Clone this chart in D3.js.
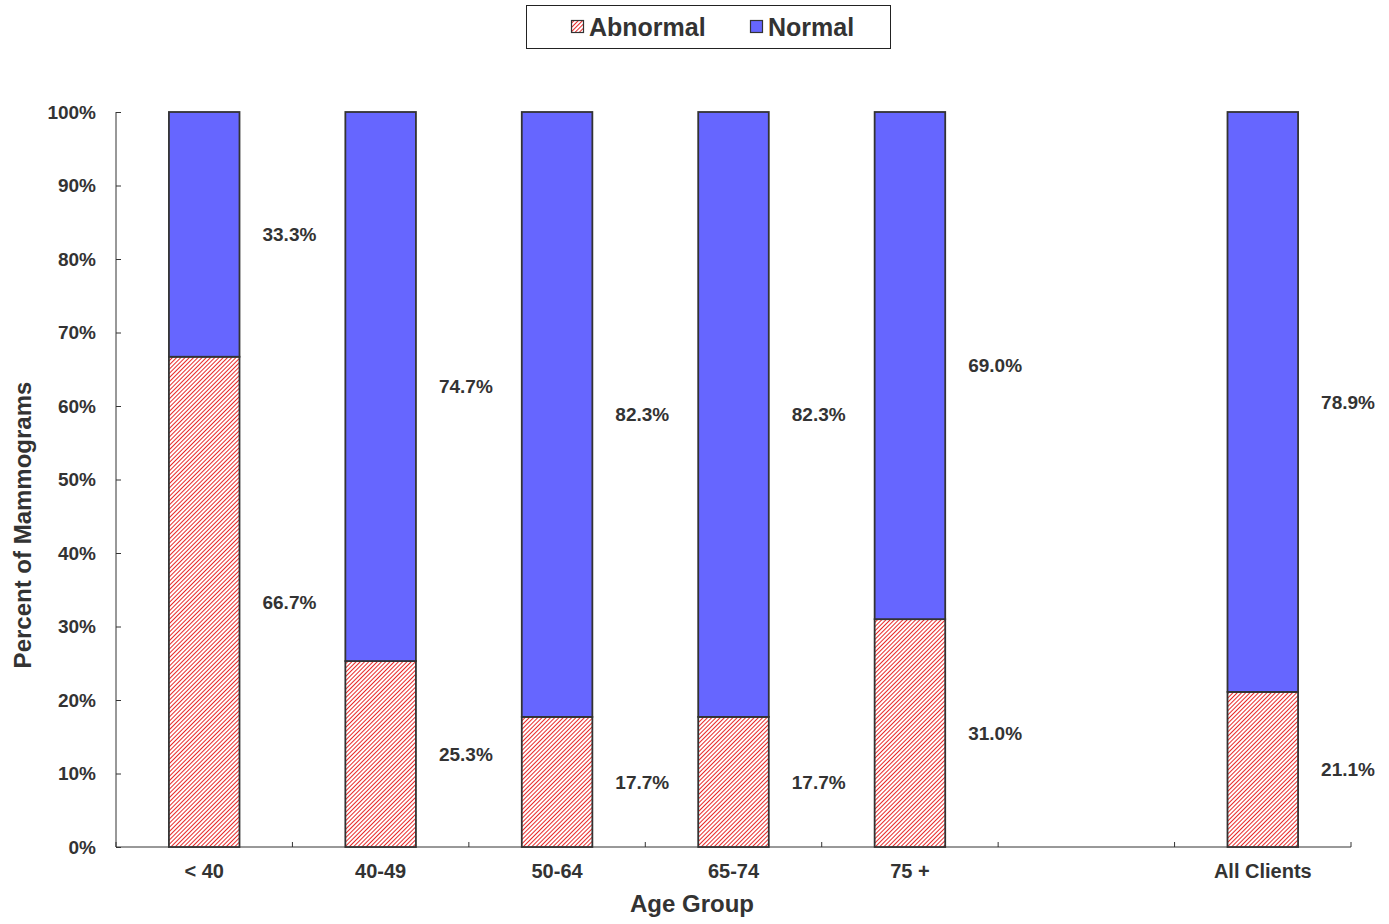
<!DOCTYPE html>
<html lang="en">
<head>
<meta charset="UTF-8">
<title>Mammograms by Age Group</title>
<script src="https://d3js.org/d3.v7.min.js"></script>
<style>
  body { margin: 0; background: #fff; }
  text { font-family: "Liberation Sans", Arial, sans-serif; font-weight: bold; fill: #333; }
</style>
</head>
<body>
<div id="chart"></div>
<script>
// data
var categories = ["< 40", "40-49", "50-64", "65-74", "75 +", "", "All Clients"];
var abnormal = [66.7, 25.3, 17.7, 17.7, 31.0, null, 21.1];
var normal = [33.3, 74.7, 82.3, 82.3, 69.0, null, 78.9];
var yTicks = [0, 10, 20, 30, 40, 50, 60, 70, 80, 90, 100];

var W = 1389, H = 924;
var margin = { top: 112, right: 38, bottom: 77, left: 116 };
var width = W - margin.left - margin.right,
    height = H - margin.top - margin.bottom;

var svg = d3.select('#chart').append('svg')
  .attr('width', W)
  .attr('height', H);

// red hatch
var defs = svg.append('defs');
var pat = defs.append('pattern')
  .attr('id', 'hatch')
  .attr('patternUnits', 'userSpaceOnUse')
  .attr('width', 3)
  .attr('height', 3)
  .attr('patternTransform', 'rotate(45)');
pat.append('rect').attr('width', 3).attr('height', 3).attr('fill', '#fff');
pat.append('line')
  .attr('x1', 0).attr('y1', 0).attr('x2', 0).attr('y2', 3)
  .attr('stroke', '#e61010').attr('stroke-width', 1.8);

var g = svg.append('g')
  .attr('transform', 'translate(' + margin.left + ',' + margin.top + ')');

var x = d3.scaleBand()
  .domain(d3.range(categories.length))
  .range([0, width])
  .paddingInner(0.6)
  .paddingOuter(0.3);

var y = d3.scaleLinear()
  .domain([0, 100])
  .range([height, 0]);

// axes
var yAxis = d3.axisLeft(y)
  .tickValues(yTicks)
  .tickSize(-5)
  .tickPadding(20)
  .tickFormat(function(d) { return d + '%'; });
var yg = g.append('g').call(yAxis);
yg.select('.domain').attr('stroke', '#333').attr('d', 'M0,' + height + 'V0');
yg.selectAll('line').attr('stroke', '#333');
yg.selectAll('text').style('font-size', '19px').attr('fill', '#333');

var xg = g.append('g').attr('transform', 'translate(0,' + height + ')');
xg.append('line')
  .attr('x1', 0).attr('x2', width)
  .attr('stroke', '#333');
var step = x.step();
xg.selectAll('.tk').data(d3.range(categories.length + 1))
  .enter().append('line')
  .attr('x1', function(i) { return i * step; })
  .attr('x2', function(i) { return i * step; })
  .attr('y1', 0).attr('y2', -5)
  .attr('stroke', '#333');
xg.selectAll('.cat').data(categories)
  .enter().append('text')
  .attr('x', function(d, i) { return x(i) + x.bandwidth() / 2; })
  .attr('y', 31)
  .attr('text-anchor', 'middle')
  .style('font-size', '20px')
  .text(function(d) { return d; });

// bars
var idx = d3.range(categories.length).filter(function(i) { return abnormal[i] != null; });

g.selectAll('.ab').data(idx)
  .enter().append('rect')
  .attr('x', function(i) { return x(i); })
  .attr('width', x.bandwidth())
  .attr('y', function(i) { return y(abnormal[i]); })
  .attr('height', function(i) { return height - y(abnormal[i]); })
  .attr('fill', 'url(#hatch)')
  .attr('stroke', '#333')
  .attr('stroke-width', 1.8);

g.selectAll('.nm').data(idx)
  .enter().append('rect')
  .attr('x', function(i) { return x(i); })
  .attr('width', x.bandwidth())
  .attr('y', function(i) { return y(abnormal[i] + normal[i]); })
  .attr('height', function(i) { return y(abnormal[i]) - y(abnormal[i] + normal[i]); })
  .attr('fill', '#6666ff')
  .attr('stroke', '#333')
  .attr('stroke-width', 1.8);

// value labels, to the right of each segment
function labelX(i) { return x(i) + x.bandwidth() / 2 + step / 2 - 3; }

g.selectAll('.lab-ab').data(idx)
  .enter().append('text')
  .attr('x', labelX)
  .attr('y', function(i) { return y(abnormal[i] / 2); })
  .attr('dy', '0.35em')
  .attr('text-anchor', 'middle')
  .style('font-size', '19px')
  .text(function(i) { return abnormal[i].toFixed(1) + '%'; });

g.selectAll('.lab-nm').data(idx)
  .enter().append('text')
  .attr('x', labelX)
  .attr('y', function(i) { return y(abnormal[i] + normal[i] / 2); })
  .attr('dy', '0.35em')
  .attr('text-anchor', 'middle')
  .style('font-size', '19px')
  .text(function(i) { return normal[i].toFixed(1) + '%'; });

// axis titles
svg.append('text')
  .attr('x', 692)
  .attr('y', 912)
  .attr('text-anchor', 'middle')
  .style('font-size', '24px')
  .text('Age Group');

svg.append('text')
  .attr('transform', 'translate(31,525) rotate(-90)')
  .attr('text-anchor', 'middle')
  .style('font-size', '24px')
  .text('Percent of Mammograms');

// legend
var lg = svg.append('g');
lg.append('rect')
  .attr('x', 526.5).attr('y', 5.5)
  .attr('width', 364).attr('height', 43)
  .attr('fill', '#fff').attr('stroke', '#222');
var items = [
  { name: 'Abnormal', fill: 'url(#hatch)', x: 571 },
  { name: 'Normal', fill: '#6666ff', x: 750 }
];
items.forEach(function(it) {
  lg.append('rect')
    .attr('x', it.x + 0.5).attr('y', 20.5)
    .attr('width', 12).attr('height', 12)
    .attr('fill', it.fill).attr('stroke', '#333').attr('stroke-width', 1.2);
  lg.append('text')
    .attr('x', it.x + 18).attr('y', 35.5)
    .style('font-size', '25px')
    .text(it.name);
});
</script>
</body>
</html>
